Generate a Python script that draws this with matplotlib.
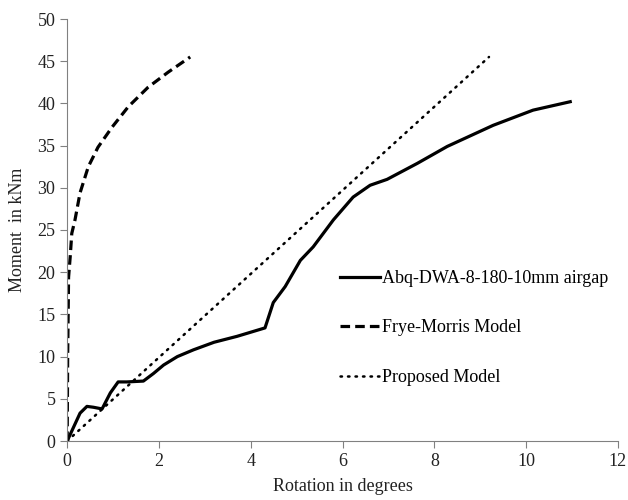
import numpy as np
import matplotlib.pyplot as plt

plt.rcParams["font.family"] = "Liberation Serif"
plt.rcParams["font.size"] = 13

# Abaqus model
abq_rot = [0, 0.28, 0.43, 0.57, 0.76, 0.94, 1.11, 1.3, 1.66, 1.88, 2.1, 2.4, 2.75, 3.2, 3.7,
           4.31, 4.49, 4.75, 5.08, 5.36, 5.8, 6.23, 6.6, 6.97, 7.63, 8.28, 9.28, 10.15, 10.96]
abq_mom = [0, 3.3, 4.1, 4.0, 3.8, 5.7, 7.0, 7.0, 7.1, 8.0, 9.0, 10.0, 10.8, 11.7, 12.4,
           13.4, 16.4, 18.3, 21.4, 23.0, 26.2, 28.9, 30.3, 31.0, 32.9, 34.9, 37.4, 39.2, 40.2]

# Frye-Morris
fm_rot = [0, 0.01, 0.03, 0.065, 0.1, 0.17, 0.28, 0.46, 0.67, 0.98, 1.33, 1.76, 2.2, 2.68]
fm_mom = [0, 10, 19.4, 21.8, 24.6, 26.2, 29.4, 32.5, 34.8, 37.2, 39.6, 41.9, 43.7, 45.5]

# proposed
pm_rot = [0, 9.19]
pm_mom = [0, 45.5]

fig = plt.figure(figsize=(6.28, 5), dpi=100)
ax = fig.add_axes([0.107, 0.118, 0.877, 0.844])

ax.plot(abq_rot, abq_mom, color="black", lw=2.3, label="Abq-DWA-8-180-10mm airgap")
ax.plot(fm_rot, fm_mom, color="black", lw=2.3, ls=(0, (3, 1.6)), label="Frye-Morris Model")
ax.plot(pm_rot, pm_mom, color="black", lw=1.8, ls=(0, (0.6, 2.4)), dash_capstyle="round",
        label="Proposed Model")

ax.set_xlim(0, 12)
ax.set_ylim(0, 50)
ax.set_xticks(range(0, 13, 2))
ax.set_yticks(range(0, 51, 5))
for s in ["top", "right"]:
    ax.spines[s].set_visible(False)
for s in ["left", "bottom"]:
    ax.spines[s].set_color("#808080")
ax.tick_params(direction="out", length=5, color="#808080", labelcolor="#222222")
ax.set_xlabel("Rotation in degrees", color="#222222", labelpad=6)
ax.set_ylabel("Moment  in kNm", color="#222222", labelpad=8)

ax.legend(loc="center left", bbox_to_anchor=(0.495, 0.268), frameon=False,
          borderpad=0, borderaxespad=0, handlelength=2.2, handletextpad=0.15,
          labelspacing=1.8)

fig.savefig("out.png", dpi=100)
